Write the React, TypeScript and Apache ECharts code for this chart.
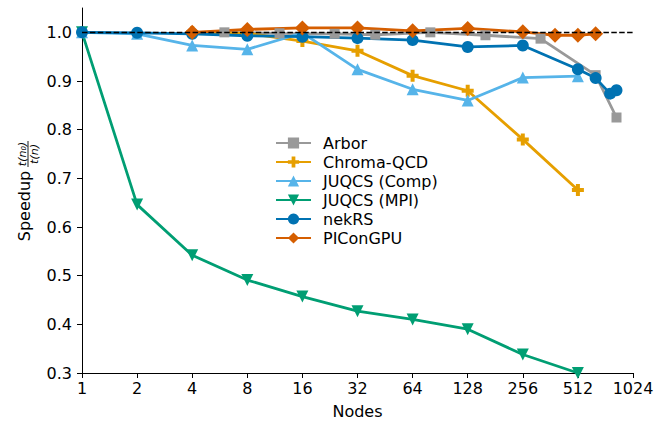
import React, { useEffect, useRef } from 'react';
import * as echarts from 'echarts';

// ---- data ----
const xTicks = [1, 2, 4, 8, 16, 32, 64, 128, 256, 512, 1024];
const yTicks = [0.3, 0.4, 0.5, 0.6, 0.7, 0.8, 0.9, 1.0];

const arborNodes = [6, 12, 24, 40, 80, 160, 320, 640, 832];
const arborSpeedup = [1.0, 0.998, 0.997, 0.995, 1.0, 0.994, 0.987, 0.912, 0.825];

const chromaNodes = [4, 8, 16, 32, 64, 128, 256, 512];
const chromaSpeedup = [1.0, 0.998, 0.982, 0.962, 0.911, 0.88, 0.78, 0.676];

const compNodes = [1, 2, 4, 8, 16, 32, 64, 128, 256, 512];
const compSpeedup = [1.0, 0.997, 0.973, 0.965, 0.999, 0.924, 0.883, 0.86, 0.907, 0.91];

const mpiNodes = [1, 2, 4, 8, 16, 32, 64, 128, 256, 512];
const mpiSpeedup = [1.0, 0.646, 0.542, 0.491, 0.457, 0.427, 0.41, 0.39, 0.338, 0.3];

const nekNodes = [1, 2, 4, 8, 16, 32, 64, 128, 256, 512, 640, 768, 832];
const nekSpeedup = [1.0, 0.999, 0.997, 0.993, 0.991, 0.988, 0.984, 0.97, 0.973, 0.924, 0.906, 0.874, 0.881];

const picNodes = [4, 8, 16, 32, 64, 128, 256, 384, 512, 640];
const picSpeedup = [1.0, 1.006, 1.009, 1.009, 1.003, 1.008, 1.001, 0.994, 0.994, 0.997];

const refLine = 1.0;

const FONT = 'DejaVu Sans';
const FS = 16;
const PLUS = 'path://M1,0 L2,0 L2,1 L3,1 L3,2 L2,2 L2,3 L1,3 L1,2 L0,2 L0,1 L1,1 Z';

function pairs(xs: number[], ys: number[]) {
  return xs.map((x, i) => [x, ys[i]]);
}

function mkSeries(name: string, xs: number[], ys: number[], color: string, symbol: string, size: number, extra: any = {}) {
  return {
    type: 'line',
    name,
    data: pairs(xs, ys),
    symbol,
    symbolSize: size,
    showSymbol: true,
    showAllSymbol: true,
    lineStyle: { color, width: 2.8 },
    itemStyle: { color, borderWidth: 0 },
    emphasis: { disabled: true },
    silent: true,
    ...extra,
  };
}

export default function App() {
  const ref = useRef<HTMLDivElement>(null);
  useEffect(() => {
    const chart = echarts.init(ref.current!, null, { renderer: 'svg' });
    const option: any = {
      animation: false,
      textStyle: { fontFamily: FONT },
      grid: { left: 82, right: 21, top: 8, bottom: 49, containLabel: false, outerBoundsMode: 'none' },
      xAxis: {
        type: 'log',
        logBase: 2,
        min: 1,
        max: 1024,
        name: 'Nodes',
        nameLocation: 'middle',
        nameGap: 30,
        nameTextStyle: { fontSize: FS, color: '#000', fontFamily: FONT },
        axisLine: { show: true, lineStyle: { color: '#000', width: 1 } },
        axisTick: { show: true, length: 5, lineStyle: { color: '#000', width: 1 }, customValues: xTicks },
        axisLabel: {
          fontSize: FS,
          color: '#000',
          fontFamily: FONT,
          margin: 7,
          customValues: xTicks,
          formatter: (v: number) => String(Math.round(v)),
        },
        splitLine: { show: false },
        minorTick: { show: false },
        minorSplitLine: { show: false },
      },
      yAxis: {
        type: 'value',
        min: 0.3,
        max: 1.05,
        axisLine: { show: true, lineStyle: { color: '#000', width: 1 } },
        axisTick: { show: true, length: 5, lineStyle: { color: '#000', width: 1 }, customValues: yTicks },
        axisLabel: {
          fontSize: FS,
          color: '#000',
          fontFamily: FONT,
          margin: 10,
          customValues: yTicks,
          formatter: (v: number) => v.toFixed(1),
        },
        splitLine: { show: false },
      },
      legend: {
        orient: 'vertical',
        left: 275,
        top: 135,
        padding: 0,
        itemWidth: 35,
        itemHeight: 14,
        itemGap: 3,
        selectedMode: false,
        textStyle: { fontSize: FS, color: '#000', fontFamily: FONT, lineHeight: 16, padding: [0, 0, 0, 7] },
        data: ['Arbor', 'Chroma-QCD', 'JUQCS (Comp)', 'JUQCS (MPI)', 'nekRS', 'PIConGPU'],
      },
      graphic: [
        {
          type: 'group',
          x: 28,
          y: 190.5,
          rotation: Math.PI / 2,
          silent: true,
          children: [
            {
              type: 'text',
              x: -15.5,
              y: -3.5,
              style: {
                text: 'Speedup',
                fontSize: FS,
                fontFamily: FONT,
                fill: '#000',
                align: 'center',
                verticalAlign: 'middle',
                textAlign: 'center',
                textVerticalAlign: 'middle',
              },
            },
            {
              type: 'text',
              x: 36.5,
              y: -6,
              style: {
                text: 't(n\u2080)',
                fontSize: 11,
                fontStyle: 'italic',
                fontFamily: FONT,
                fill: '#000',
                align: 'center',
                verticalAlign: 'middle',
                textAlign: 'center',
                textVerticalAlign: 'middle',
              },
            },
            {
              type: 'line',
              shape: { x1: 23.5, y1: 0, x2: 49.5, y2: 0 },
              style: { stroke: '#000', lineWidth: 0.9 },
            },
            {
              type: 'text',
              x: 36.5,
              y: 6,
              style: {
                text: 't(n)',
                fontSize: 11,
                fontStyle: 'italic',
                fontFamily: FONT,
                fill: '#000',
                align: 'center',
                verticalAlign: 'middle',
                textAlign: 'center',
                textVerticalAlign: 'middle',
              },
            },
          ],
        },
      ],
      series: [
        mkSeries('Arbor', arborNodes, arborSpeedup, '#999999', 'rect', 10, {
          markLine: {
            silent: true,
            symbol: ['none', 'none'],
            label: { show: false },
            emphasis: { disabled: true },
            lineStyle: { color: '#000', type: [5.5, 2.4], width: 1.4 },
            data: [{ yAxis: refLine }],
          },
        }),
        mkSeries('Chroma-QCD', chromaNodes, chromaSpeedup, '#E69F00', PLUS, 12),
        mkSeries('JUQCS (Comp)', compNodes, compSpeedup, '#56B4E9', 'triangle', 12),
        mkSeries('JUQCS (MPI)', mpiNodes, mpiSpeedup, '#009E73', 'triangle', 12, { symbolRotate: 180 }),
        mkSeries('nekRS', nekNodes, nekSpeedup, '#0072B2', 'circle', 12),
        mkSeries('PIConGPU', picNodes, picSpeedup, '#D55E00', 'diamond', 15),
      ],
    };
    chart.setOption(option);
    return () => chart.dispose();
  }, []);
  return <div ref={ref} style={{ position: 'absolute', left: 0, top: 0, width: 654, height: 422 }} />;
}
